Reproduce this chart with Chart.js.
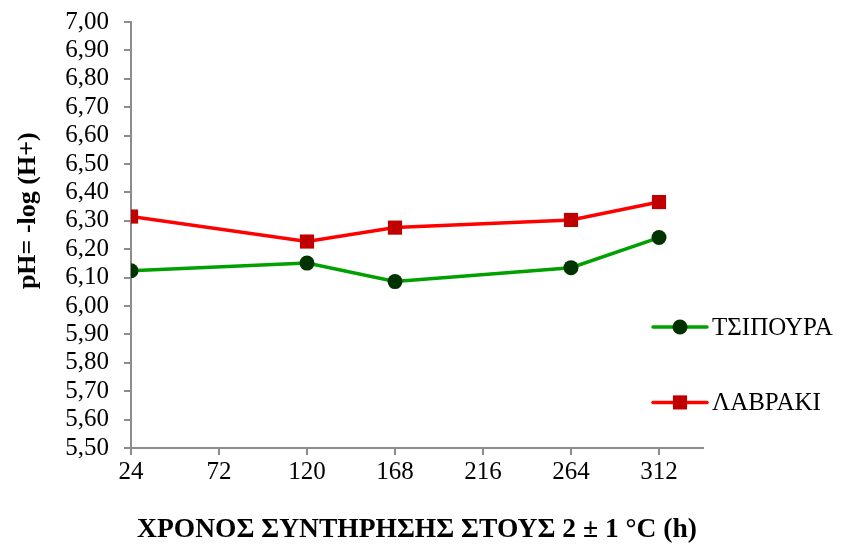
<!DOCTYPE html>
<html>
<head>
<meta charset="utf-8">
<script src="https://cdn.jsdelivr.net/npm/chart.js@4.4.1/dist/chart.umd.min.js"></script>
<style>
  html, body { margin: 0; padding: 0; background: #ffffff; }
  #wrap { width: 844px; height: 547px; }
</style>
</head>
<body>
<div id="wrap"><canvas id="c" width="844" height="547"></canvas></div>
<script>
// Storage time in hours at 2 ± 1 °C
const hours = [24, 120, 168, 264, 312];
// pH of gilthead sea bream (τσιπούρα)
const tsipoura = [6.124, 6.151, 6.086, 6.135, 6.241];
// pH of sea bass (λαβράκι)
const lavraki = [6.315, 6.227, 6.276, 6.303, 6.366];
// Axis tick values
const xTicks = [24, 72, 120, 168, 216, 264, 312];
const yTicks = [5.5, 5.6, 5.7, 5.8, 5.9, 6.0, 6.1, 6.2, 6.3, 6.4, 6.5, 6.6, 6.7, 6.8, 6.9, 7.0];

const seriesNames = ['ΤΣΙΠΟΥΡΑ', 'ΛΑΒΡΑΚΙ'];
const yTitle = 'pH= -log (H+)';
const xTitle = 'ΧΡΟΝΟΣ ΣΥΝΤΗΡΗΣΗΣ ΣΤΟΥΣ 2 ± 1 °C (h)';

const SERIF = '"Liberation Serif", "Times New Roman", serif';
const AXIS_GREY = '#8c8c8c';

const toPoints = (xs, ys) => xs.map((x, i) => ({ x: x, y: ys[i] }));

// Legend drawn at the right side, overlapping the plot's right margin
const sideLegend = {
  id: 'sideLegend',
  afterDraw(chart) {
    const ctx = chart.ctx;
    const area = chart.chartArea;
    const rows = [area.top + 0.716 * (area.bottom - area.top), area.top + 0.893 * (area.bottom - area.top)];
    chart.data.datasets.forEach((ds, i) => {
      const y = rows[i];
      const x0 = area.right - 50, x1 = area.right + 4;
      ctx.save();
      ctx.strokeStyle = ds.borderColor;
      ctx.lineWidth = ds.borderWidth;
      ctx.lineCap = 'round';
      ctx.beginPath();
      ctx.moveTo(x0, y);
      ctx.lineTo(x1, y);
      ctx.stroke();
      ctx.fillStyle = ds.pointBackgroundColor;
      ctx.strokeStyle = ds.pointBorderColor;
      ctx.lineWidth = 0;
      Chart.helpers.drawPoint(ctx, {
        pointStyle: ds.pointStyle,
        radius: ds.pointRadius,
        rotation: 0,
        borderWidth: 0
      }, (x0 + x1) / 2, y);
      ctx.restore();
      ctx.save();
      ctx.font = '25px ' + SERIF;
      ctx.fillStyle = '#000000';
      ctx.textAlign = 'left';
      ctx.textBaseline = 'middle';
      ctx.fillText(ds.label, x1 + 5, y + 1);
      ctx.restore();
    });
  }
};

// Rotated value-axis title, placed a little above the axis middle
const sideTitle = {
  id: 'sideTitle',
  afterDraw(chart) {
    const ctx = chart.ctx;
    const area = chart.chartArea;
    ctx.save();
    ctx.translate(28, area.top + 0.443 * (area.bottom - area.top));
    ctx.rotate(-Math.PI / 2);
    ctx.font = 'bold 26px ' + SERIF;
    ctx.fillStyle = '#000000';
    ctx.textAlign = 'center';
    ctx.textBaseline = 'middle';
    ctx.fillText(yTitle, 0, 0);
    ctx.restore();
  }
};

new Chart(document.getElementById('c'), {
  type: 'line',
  data: {
    datasets: [
      {
        label: seriesNames[0],
        data: toPoints(hours, tsipoura),
        borderColor: '#00a000',
        borderWidth: 3.5,
        pointStyle: 'circle',
        pointRadius: 7.5,
        pointHoverRadius: 7.5,
        pointBackgroundColor: '#003300',
        pointBorderColor: '#003300',
        pointBorderWidth: 0,
        tension: 0
      },
      {
        label: seriesNames[1],
        data: toPoints(hours, lavraki),
        borderColor: '#ff0000',
        borderWidth: 3.5,
        pointStyle: 'rect',
        pointRadius: 10,
        pointHoverRadius: 10,
        pointBackgroundColor: '#c00000',
        pointBorderColor: '#c00000',
        pointBorderWidth: 0,
        tension: 0
      }
    ]
  },
  options: {
    responsive: false,
    animation: false,
    events: [],
    layout: { padding: { top: 22, right: 141, left: 0, bottom: 0 } },
    plugins: {
      legend: { display: false },
      tooltip: { enabled: false },
      title: { display: false }
    },
    scales: {
      x: {
        type: 'linear',
        min: 24,
        max: 336,
        afterBuildTicks(scale) { scale.ticks = xTicks.map(v => ({ value: v })); },
        afterFit(scale) {
          scale.height = 99;
          scale.paddingLeft = 0;
          scale.paddingRight = 0;
        },
        border: { display: true, color: AXIS_GREY, width: 2 },
        grid: { display: true, drawOnChartArea: false, drawTicks: true, tickLength: 7, color: AXIS_GREY, lineWidth: 2 },
        ticks: {
          color: '#000000',
          font: { family: SERIF, size: 25 },
          padding: 2,
          maxRotation: 0,
          autoSkip: false
        },
        title: {
          display: true,
          text: xTitle,
          color: '#000000',
          font: { family: SERIF, size: 27.5, weight: 'bold' },
          padding: { top: 0, bottom: 1 }
        }
      },
      y: {
        type: 'linear',
        min: 5.5,
        max: 7.0,
        afterBuildTicks(scale) { scale.ticks = yTicks.map(v => ({ value: v })); },
        afterFit(scale) {
          scale.width = 131;
          scale.paddingTop = 0;
          scale.paddingBottom = 0;
        },
        border: { display: true, color: AXIS_GREY, width: 2 },
        grid: { display: true, drawOnChartArea: false, drawTicks: true, tickLength: 7, color: AXIS_GREY, lineWidth: 2 },
        ticks: {
          color: '#000000',
          font: { family: SERIF, size: 25 },
          padding: 15,
          autoSkip: false,
          callback: (v) => Number(v).toFixed(2).replace('.', ',')
        }
      }
    }
  },
  plugins: [sideLegend, sideTitle]
});
</script>
</body>
</html>
